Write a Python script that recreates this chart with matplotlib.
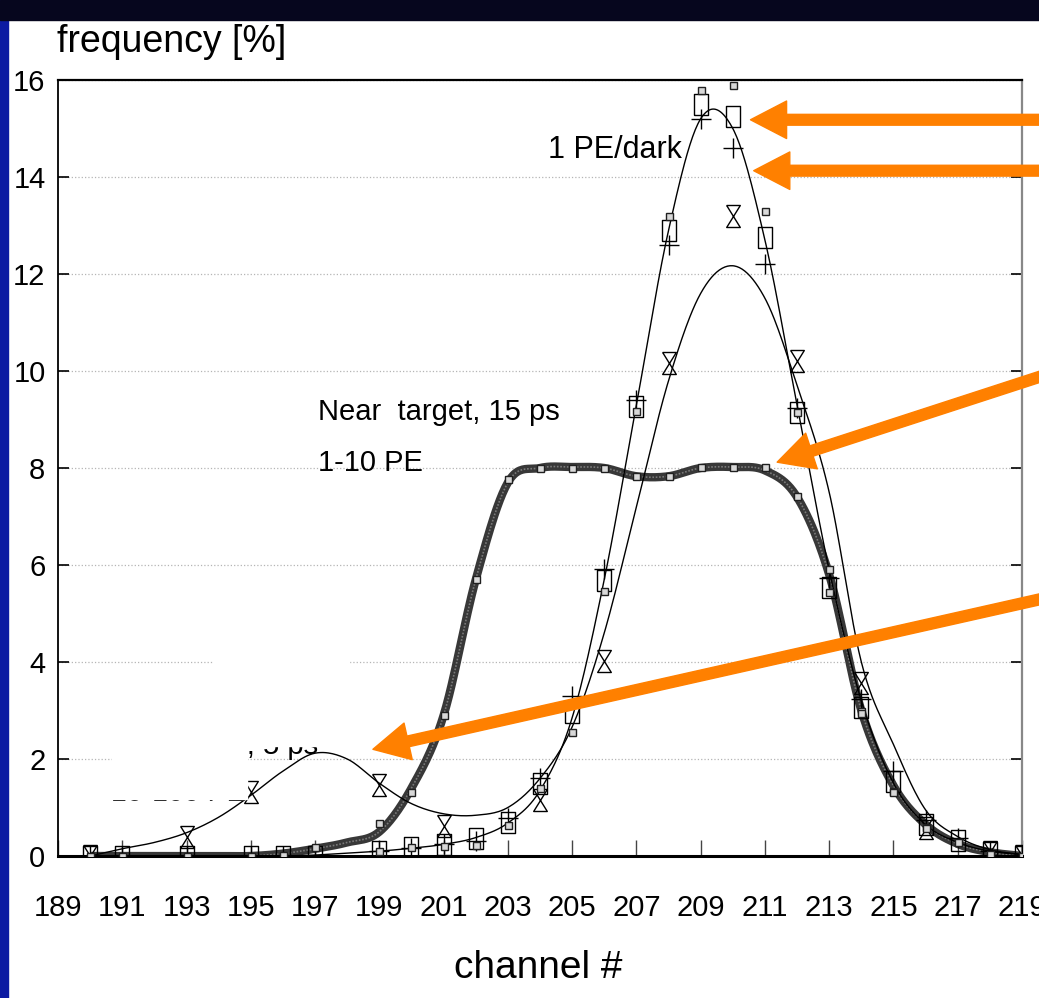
import numpy as np
import matplotlib
matplotlib.use("Agg")
import matplotlib.pyplot as plt
from matplotlib.path import Path
from matplotlib.patches import Rectangle

plt.rcParams["font.family"] = ["Liberation Sans", "DejaVu Sans"]

W, H = 1039, 998

# ---- data ----
channels = list(range(190, 220))

# fitted curves, one value per channel
fit_dark = [0, 0, 0, 0, 0, 0, 0, 0.02, 0.06, 0.1, 0.16, 0.24, 0.38, 0.68, 1.35,
            2.85, 5.7, 9.3, 12.9, 15.2, 15.0, 12.7, 9.3, 5.9, 3.2, 1.5, 0.65, 0.28, 0.1, 0.03]
fit_far = [0, 0.15, 0.28, 0.48, 0.8, 1.25, 1.75, 2.12, 2.0, 1.5, 1.08, 0.87, 0.84, 1.0, 1.6,
           2.66, 4.6, 7.2, 9.8, 11.6, 12.17, 11.5, 9.7, 7.5, 4.0, 2.3, 0.95, 0.4, 0.13, 0.03]
fit_near = [0, 0, 0, 0, 0, 0, 0.05, 0.15, 0.28, 0.5, 1.4, 2.9, 5.7, 7.7, 8.0,
            8.02, 8.0, 7.83, 7.83, 8.0, 8.02, 7.95, 7.4, 5.8, 3.0, 1.45, 0.65, 0.25, 0.08, 0]

# measured points
pt_ch = [190, 191, 193, 195, 196, 197, 199, 200, 201, 202, 203, 204, 205, 206,
         207, 208, 209, 210, 211, 212, 213, 214, 215, 216, 217, 218, 219]
box_val = [0, 0, 0, 0, 0, 0, 0.1, 0.19, 0.25, 0.37, 0.7, 1.5, 2.97, 5.7,
           9.28, 12.9, 15.5, 15.26, 12.77, 9.16, 5.55, 3.07, 1.55, 0.67, 0.33, 0.08, 0]
plus_val = [0, 0, 0, 0, 0, 0, 0.1, 0.17, 0.25, 0.3, 0.78, 1.6, 3.3, 5.92,
            9.4, 12.6, 15.2, 14.6, 12.2, 9.24, 5.73, 3.23, 1.75, 0.74, 0.37, 0.1, 0]
near_val = [0, 0, 0, 0, 0.02, 0.18, 0.68, 1.32, 2.9, 5.71, 7.78, 8.0, 8.0, 8.0,
            7.83, 7.83, 8.02, 8.02, 8.02, 7.42, 5.92, 3.0, 1.35, 0.6, 0.28, 0.05, 0]

small_ch = [199, 200, 201, 202, 203, 204, 205, 206, 207, 208, 209, 210, 211, 212,
            213, 214, 215, 216, 217]
small_val = [0.1, 0.19, 0.2, 0.23, 0.64, 1.4, 2.55, 5.46, 9.17, 13.2, 15.8, 15.9, 13.3,
             9.15, 5.45, 2.95, 1.32, 0.57, 0.29]

hg_ch = [190, 193, 195, 199, 201, 204, 206, 208, 210, 212, 214, 216, 218, 219]
hg_val = [0, 0.4, 1.32, 1.46, 0.62, 1.15, 4.02, 10.16, 13.2, 10.2, 3.56, 0.57, 0.08, 0]

x_ticks = list(range(189, 220, 2))
y_ticks = list(range(0, 17, 2))


def smooth(x, y, n=24):
    """Catmull-Rom line through the points (only for drawing)."""
    p = np.column_stack([x, y]).astype(float)
    p = np.vstack([2 * p[0] - p[1], p, 2 * p[-1] - p[-2]])
    p0, p1, p2, p3 = p[:-3], p[1:-2], p[2:-1], p[3:]
    t = np.linspace(0, 1, n, endpoint=False)[:, None, None]
    c = 0.5 * (2 * p1 + (p2 - p0) * t + (2 * p0 - 5 * p1 + 4 * p2 - p3) * t ** 2
               + (3 * p1 - p0 - 3 * p2 + p3) * t ** 3)
    c = c.transpose(1, 0, 2).reshape(-1, 2)
    c = np.vstack([c, p[-2]])
    return c[:, 0], c[:, 1]


fig = plt.figure(figsize=(W / 100, H / 100), dpi=100)
fig.patch.set_facecolor("white")

# slide frame
fig.add_artist(Rectangle((0, 0), 8 / W, 1, transform=fig.transFigure,
                         color="#0c1aa2", zorder=0))
fig.add_artist(Rectangle((0, 1 - 20 / H), 1, 20 / H, transform=fig.transFigure,
                         color="#06061e", zorder=0))

ax = fig.add_axes([58 / W, 1 - 856 / H, (1022 - 58) / W, (856 - 80) / H])
ax.set_xlim(189, 219)
ax.set_ylim(0, 16)
ax.set_xticks(x_ticks)
ax.set_xticklabels([str(v) for v in x_ticks])
ax.set_yticks(y_ticks)
ax.yaxis.grid(True, color="#b5b5b5", linestyle=":", linewidth=0.9)
ax.set_axisbelow(True)
ax.tick_params(axis="x", direction="in", length=11.5, width=1, color="#444444",
               labelsize=21, pad=27)
ax.tick_params(axis="y", direction="in", length=8, width=1.2, color="black",
               labelsize=21, pad=9, right=True)
ax.spines["top"].set_linewidth(1.6)
ax.spines["bottom"].set_linewidth(2.2)
ax.spines["left"].set_linewidth(1.3)
ax.spines["right"].set_linewidth(1.6)
ax.spines["right"].set_color("#888888")

# curves
xs, ys = smooth(channels, fit_near)
ax.plot(xs, ys, color="#383838", lw=6, zorder=2, solid_capstyle="butt")
ax.plot(xs, ys, color="#7a7a7a", lw=1.2, ls=(0, (1, 1)), zorder=2)
xs, ys = smooth(channels, fit_dark)
ax.plot(xs, ys, color="black", lw=1.0, zorder=3)
xs, ys = smooth(channels, fit_far)
ax.plot(xs, ys, color="black", lw=1.0, zorder=3)

# markers
box = Path([(-0.7, -1), (0.7, -1), (0.7, 1), (-0.7, 1), (-0.7, -1)])
hourglass = Path([(-0.62, 1), (0.62, 1), (-0.62, -1), (0.62, -1), (-0.62, 1)])
px = 72 / 100
ax.plot(pt_ch, box_val, ls="none", marker=box, ms=21 * px, mfc="none",
        mec="black", mew=1.0, zorder=4)
ax.plot(pt_ch, plus_val, ls="none", marker="+", ms=20 * px, mec="black",
        mew=1.0, zorder=4)
ax.plot(hg_ch, hg_val, ls="none", marker=hourglass, ms=22 * px, mfc="none",
        mec="black", mew=1.0, zorder=4)
ax.plot(pt_ch, near_val, ls="none", marker="s", ms=7 * px, mfc="#d8d8d8",
        mec="#202020", mew=1.0, zorder=5)
ax.plot(small_ch, small_val, ls="none", marker="s", ms=7 * px, mfc="#d8d8d8",
        mec="#202020", mew=1.0, zorder=5)

# labels
fig.text(57 / W, 1 - 42 / H, "frequency [%]", fontsize=27, va="center", ha="left")
fig.text(538 / W, 1 - 968 / H, "channel #", fontsize=28, va="center", ha="center")
fig.text(548 / W, 1 - 150 / H, "1 PE/dark", fontsize=22, va="center", ha="left")
fig.text(318 / W, 1 - 412 / H, "Near  target, 15 ps", fontsize=21, va="center", ha="left")
fig.text(318 / W, 1 - 463 / H, "1-10 PE", fontsize=21, va="center", ha="left")

# partly hidden label under white boxes
fig.text(112 / W, 1 - 754 / H, "Far  target, 5 ps", fontsize=21, va="baseline",
         ha="left", zorder=6)
fig.text(111 / W, 1 - 801 / H, "10-100 PE", fontsize=20.5, va="baseline",
         ha="left", zorder=6)
fig.add_artist(Rectangle((213 / W, 1 - 746 / H), 136 / W, 92 / H,
                         transform=fig.transFigure, color="white", zorder=7))
fig.add_artist(Rectangle((112 / W, 1 - 799 / H), 135 / W, 120 / H,
                         transform=fig.transFigure, color="white", zorder=7))

# orange arrows (tips on the curves, tails off the slide edge)
orange = "#ff8000"
style = "simple,head_length=2.6,head_width=2.7,tail_width=0.78"
arrows = [((210.55, 15.18), (1050, 15.18)),
          ((210.65, 14.13), (1050, 14.13)),
          ((211.38, 8.12), (1050, 9.95)),
          ((198.8, 2.2), (1050, 5.34))]
for tip, tail in arrows:
    ax.annotate("", xy=tip, xycoords="data", xytext=tail,
                textcoords=("figure pixels", "data"),
                arrowprops=dict(arrowstyle=style, mutation_scale=10, color=orange,
                                shrinkA=0, shrinkB=0),
                annotation_clip=False, zorder=8)

fig.savefig("out.png", dpi=100)
